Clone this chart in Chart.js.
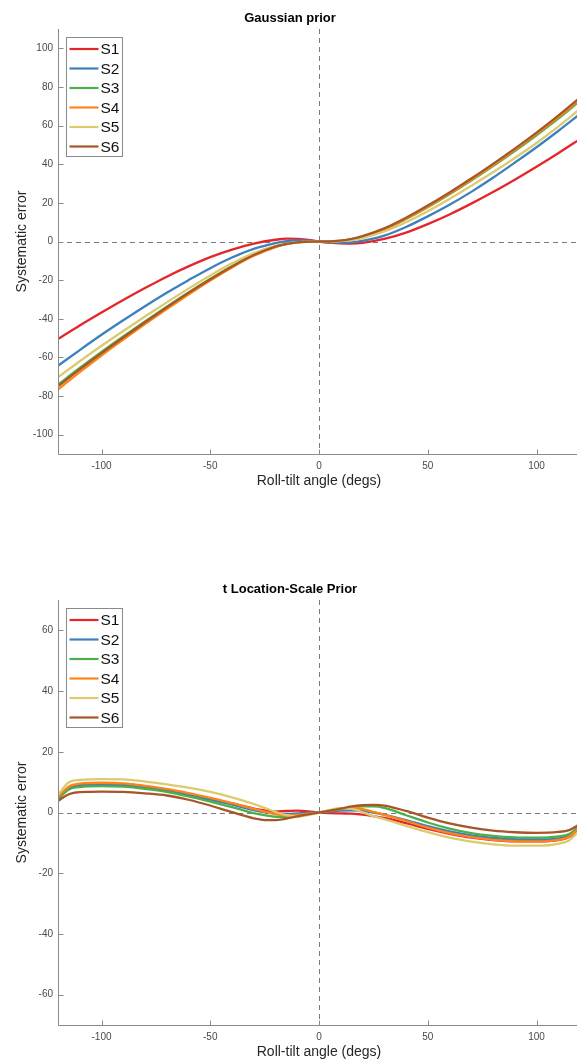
<!DOCTYPE html>
<html>
<head>
<meta charset="utf-8">
<script src="https://cdn.jsdelivr.net/npm/chart.js@4.4.1/dist/chart.umd.min.js"></script>
<style>
  html, body { margin: 0; padding: 0; background: #fff; overflow: hidden; width: 577px; height: 1061px; }
  .panel { position: absolute; left: 0; width: 582px; height: 496px; }
  #top-panel { top: 0; }
  #bottom-panel { top: 571px; }
</style>
</head>
<body>
<div class="panel" id="top-panel"><canvas id="gauss-chart"></canvas></div>
<div class="panel" id="bottom-panel"><canvas id="tls-chart"></canvas></div>
<script>
// Series names and colours
const seriesNames = ["S1", "S2", "S3", "S4", "S5", "S6"];
const seriesColors = ["#e4262b", "#3d80bd", "#4daf4a", "#ff8418", "#dccb6e", "#a65628"];

// Tick labels
const xTicks = [-100, -50, 0, 50, 100];
const gaussYTicks = [-100, -80, -60, -40, -20, 0, 20, 40, 60, 80, 100];
const tYTicks = [-60, -40, -20, 0, 20, 40, 60];

// Gaussian prior
const gaussAngles = [-120, -110, -100, -90, -80, -70, -60, -50, -40, -30, -20, -15, -10, -5, 0, 5, 10, 15, 20, 30, 40, 50, 60, 70, 80, 90, 100, 110, 120];
const gaussS1 = [-50.5, -43.5, -36.8, -30.3, -24.1, -18.2, -12.9, -8.1, -4.2, -1.1, 0.9, 1.5, 1.4, 0.8, 0, -0.6, -1, -1.1, -0.7, 1.3, 4.6, 9, 14, 19.6, 25.6, 32, 38.7, 45.7, 53];
const gaussS2 = [-64.3, -56.2, -48.3, -40.8, -33.5, -26.5, -20, -13.8, -8.3, -3.8, -0.8, 0.2, 0.6, 0.5, 0, -0.4, -0.6, -0.4, 0.3, 3, 7.5, 13, 19, 25.7, 33, 40.8, 48.8, 57.2, 66];
const gaussS3 = [-74.1, -65.5, -57.2, -49.2, -41.4, -33.8, -26.4, -19.4, -12.8, -7, -2.7, -1.3, -0.5, -0.1, 0, -0.1, 0.3, 1.1, 2.4, 6.2, 11.6, 17.7, 24.4, 31.5, 39, 46.8, 55, 63.6, 72.8];
const gaussS4 = [-76.6, -67.6, -59, -50.8, -42.8, -35, -27.4, -20.2, -13.4, -7.4, -2.9, -1.4, -0.5, -0.1, 0, -0.1, 0.3, 1.1, 2.4, 6.3, 11.8, 18, 24.8, 32, 39.6, 47.5, 55.7, 64.4, 73.6];
const gaussS5 = [-70.3, -62, -54, -46.3, -38.8, -31.5, -24.4, -17.6, -11.3, -6, -2.3, -1.1, -0.4, -0.1, 0, 0, 0.2, 0.7, 1.8, 5.2, 10, 15.7, 22, 28.8, 35.8, 43.2, 51, 59.5, 68.6];
const gaussS6 = [-74.9, -66.2, -57.8, -49.7, -41.8, -34.1, -26.6, -19.5, -12.9, -7, -2.6, -1.2, -0.4, -0.1, 0, 0, 0.5, 1.4, 2.8, 6.8, 12.3, 18.6, 25.4, 32.6, 40.2, 48.1, 56.4, 65.2, 74.5];

// t Location-Scale prior
const tAngles = [-120, -115, -110, -100, -90, -80, -70, -60, -50, -40, -30, -25, -20, -15, -10, -5, 0, 5, 10, 15, 20, 25, 30, 40, 50, 60, 70, 80, 90, 100, 110, 115, 120];
const tS1 = [4.8, 8.3, 9.2, 9.5, 9.3, 8.6, 7.5, 6.1, 4.6, 3, 1.3, 0.7, 0.4, 0.5, 0.6, 0.4, 0, -0.2, -0.3, -0.4, -0.7, -1.2, -1.8, -3.5, -5.4, -7, -8.3, -9.1, -9.5, -9.5, -9.1, -8.1, -4.9];
const tS2 = [4.6, 8, 8.9, 9.2, 9, 8.3, 7.2, 5.8, 4.2, 2.6, 0.8, 0.1, -0.3, -0.5, -0.3, -0.1, 0, 0.3, 0.6, 0.7, 0.5, 0, -0.7, -2.5, -4.5, -6.2, -7.5, -8.4, -8.8, -8.9, -8.5, -7.6, -4.5];
const tS3 = [4.4, 7.6, 8.4, 8.7, 8.5, 7.8, 6.8, 5.3, 3.6, 1.8, -0.2, -0.9, -1.4, -1.4, -1, -0.5, 0, 0.5, 1, 1.6, 2, 2, 1.5, -0.9, -3.3, -5.3, -6.8, -7.7, -8.2, -8.3, -7.9, -7.1, -4.3];
const tS4 = [5.2, 8.6, 9.5, 9.8, 9.6, 8.8, 7.8, 6.4, 4.8, 3.1, 1.2, 0.3, -0.5, -0.9, -0.8, -0.4, 0, 0.6, 1.2, 1.5, 1.1, 0.2, -0.8, -2.8, -5, -6.8, -8.1, -9, -9.4, -9.5, -9, -8, -4.8];
const tS5 = [5.8, 10, 10.7, 11, 10.9, 10.2, 9.3, 8.2, 6.8, 5, 2.8, 1.5, 0.2, -0.9, -1.4, -0.9, 0, 0.9, 1.4, 1.2, 0.1, -1.2, -2.2, -4.4, -6.5, -8.3, -9.6, -10.5, -10.9, -10.9, -10.3, -9.2, -5.8];
const tS6 = [3.8, 6, 6.7, 6.9, 6.8, 6.3, 5.6, 4.2, 2.3, 0.1, -1.9, -2.5, -2.5, -2, -1.3, -0.6, 0, 0.6, 1.3, 2, 2.4, 2.5, 2.3, 0.5, -1.7, -3.6, -5, -6, -6.5, -6.7, -6.4, -5.8, -3.8];

Chart.defaults.font.family = "Arial, 'Liberation Sans', sans-serif";

const axisColor = "#8a8a8a";

// MATLAB-like axes: dashed zero lines, inward ticks, left/bottom axis lines
const matlabAxes = {
  id: "matlabAxes",
  beforeDatasetsDraw(chart) {
    const { ctx, chartArea: a, scales: { x, y } } = chart;
    const x0 = Math.round(x.getPixelForValue(0)) + 0.5;
    const y0 = Math.round(y.getPixelForValue(0)) + 0.5;
    ctx.save();
    ctx.strokeStyle = "#7a7a7a";
    ctx.lineWidth = 1;
    ctx.setLineDash([5, 4]);
    ctx.beginPath();
    ctx.moveTo(x0, a.top);
    ctx.lineTo(x0, a.bottom);
    ctx.moveTo(a.left, y0);
    ctx.lineTo(a.right, y0);
    ctx.stroke();
    ctx.restore();
  },
  afterDatasetsDraw(chart) {
    const { ctx, chartArea: a, scales: { x, y } } = chart;
    const left = Math.round(a.left) + 0.5;
    const bottom = Math.round(a.bottom) + 0.5;
    ctx.save();
    ctx.strokeStyle = axisColor;
    ctx.lineWidth = 1;
    ctx.beginPath();
    ctx.moveTo(left, a.top);
    ctx.lineTo(left, bottom);
    ctx.lineTo(a.right, bottom);
    x.ticks.forEach((t) => {
      const px = Math.round(x.getPixelForValue(t.value)) + 0.5;
      ctx.moveTo(px, bottom);
      ctx.lineTo(px, bottom - 5);
    });
    y.ticks.forEach((t) => {
      const py = Math.round(y.getPixelForValue(t.value)) + 0.5;
      ctx.moveTo(left, py);
      ctx.lineTo(left + 5, py);
    });
    ctx.stroke();
    ctx.restore();
  },
};

// Boxed legend in the upper left corner
const boxedLegend = {
  id: "boxedLegend",
  afterDraw(chart) {
    const { ctx, chartArea: a } = chart;
    const bx = Math.round(a.left + 8) + 0.5;
    const by = Math.round(a.top + 7.5) + 0.5;
    const bw = 56;
    const bh = 119;
    ctx.save();
    ctx.fillStyle = "#fff";
    ctx.fillRect(bx, by, bw, bh);
    ctx.strokeStyle = "#8a8a8a";
    ctx.lineWidth = 1;
    ctx.strokeRect(bx, by, bw, bh);
    ctx.font = "15.5px Arial, 'Liberation Sans', sans-serif";
    ctx.textBaseline = "middle";
    chart.data.datasets.forEach((ds, i) => {
      const ly = by + 11.5 + i * 19.5;
      ctx.strokeStyle = ds.borderColor;
      ctx.lineWidth = 2.2;
      ctx.beginPath();
      ctx.moveTo(bx + 3, ly);
      ctx.lineTo(bx + 32, ly);
      ctx.stroke();
      ctx.fillStyle = "#111";
      ctx.fillText(ds.label, bx + 34, ly + 1);
    });
    ctx.restore();
  },
};

function makeChart(canvasId, titleText, angles, seriesList, yMin, yMax, yTicks) {
  const datasets = seriesList.map((values, i) => ({
    label: seriesNames[i],
    data: angles.map((a, k) => ({ x: a, y: values[k] })),
    borderColor: seriesColors[i],
    borderWidth: 2.3,
    pointRadius: 0,
    cubicInterpolationMode: "monotone",
    order: seriesList.length - i,
  }));

  return new Chart(document.getElementById(canvasId), {
    type: "line",
    data: { datasets },
    options: {
      responsive: true,
      maintainAspectRatio: false,
      animation: false,
      layout: { padding: { left: 0, right: 2, top: 0, bottom: 2 } },
      plugins: {
        legend: { display: false },
        tooltip: { enabled: false },
        title: {
          display: true,
          text: titleText,
          color: "#000",
          font: { size: 13, weight: "bold" },
          padding: { top: 11, bottom: 2.4 },
        },
      },
      scales: {
        x: {
          type: "linear",
          min: -120,
          max: 120,
          afterBuildTicks: (s) => { s.ticks = xTicks.map((v) => ({ value: v })); },
          afterFit: (s) => { s.height = 40; },
          grid: { display: false, drawTicks: false },
          border: { display: false },
          ticks: { color: "#4a4a4a", font: { size: 10 }, padding: 6, maxRotation: 0 },
          title: {
            display: true,
            text: "Roll-tilt angle (degs)",
            color: "#262626",
            font: { size: 14 },
            padding: { top: 0, bottom: 4 },
          },
        },
        y: {
          type: "linear",
          min: yMin,
          max: yMax,
          afterBuildTicks: (s) => { s.ticks = yTicks.map((v) => ({ value: v })); },
          afterFit: (s) => { s.width = 58; },
          grid: { display: false, drawTicks: false },
          border: { display: false },
          ticks: { color: "#4a4a4a", font: { size: 10 }, padding: 5 },
          title: {
            display: true,
            text: "Systematic error",
            color: "#262626",
            font: { size: 14 },
            padding: { top: 14, bottom: 0 },
          },
        },
      },
    },
    plugins: [matlabAxes, boxedLegend],
  });
}

makeChart("gauss-chart", "Gaussian prior", gaussAngles,
  [gaussS1, gaussS2, gaussS3, gaussS4, gaussS5, gaussS6], -110, 110, gaussYTicks);

makeChart("tls-chart", "t Location-Scale Prior", tAngles,
  [tS1, tS2, tS3, tS4, tS5, tS6], -70, 70, tYTicks);
</script>
</body>
</html>
